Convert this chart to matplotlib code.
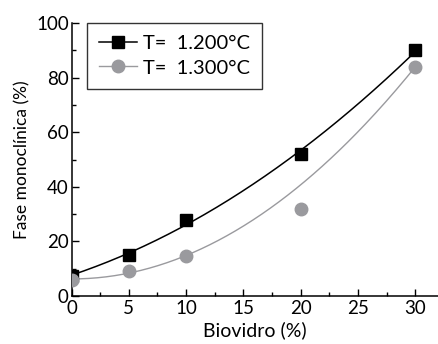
import numpy as np
import matplotlib
matplotlib.use("Agg")
from matplotlib import pyplot as plt
from matplotlib.lines import Line2D

plt.rcParams['font.family'] = ['Lato', 'DejaVu Sans']

biovidro = [0, 5, 10, 20, 30]
fase_1200 = [7.5, 15, 28, 52, 90]
fase_1300 = [6, 9, 14.5, 32, 84]
# weight of each point in the fitted trend line (20% point of 1300 C sits off the curve)
peso_1300 = [1, 1, 1, 0.05, 1]

black = "#000000"
grey = "#9a9a9e"

fig = plt.figure(figsize=(4.39, 3.44), dpi=100)
ax = fig.add_axes([0.163, 0.1395, 0.835, 0.793])

# smooth fitted curves (2nd order)
xs = np.linspace(0, 30, 200)
p1 = np.polyfit(biovidro, fase_1200, 2)
p2 = np.polyfit(biovidro, fase_1300, 2, w=peso_1300)
ax.plot(xs, np.polyval(p1, xs), color=black, lw=1.1, zorder=2)
ax.plot(xs, np.polyval(p2, xs), color=grey, lw=1.0, zorder=2)

ax.plot(biovidro, fase_1200, ls="none", marker="s", ms=9, color=black, zorder=3)
ax.plot(biovidro, fase_1300, ls="none", marker="o", ms=9, color=grey, zorder=4)

ax.set_xlim(0, 32)
ax.set_ylim(0, 100)
ax.set_xticks([0, 5, 10, 15, 20, 25, 30])
ax.set_xticks(np.arange(2.5, 32, 5), minor=True)
ax.set_yticks([0, 20, 40, 60, 80, 100])
ax.set_yticks([10, 30, 50, 70, 90], minor=True)
ax.tick_params(direction="in", which="major", length=5, width=1, labelsize=13.5)
ax.tick_params(direction="in", which="minor", length=3, width=1)
ax.tick_params(axis="x", which="major", pad=3)
ax.tick_params(axis="y", which="major", pad=2)

ax.spines["top"].set_visible(False)
ax.spines["right"].set_visible(False)
ax.spines["left"].set_linewidth(1.1)
ax.spines["bottom"].set_linewidth(1.1)

ax.set_xlabel("Biovidro (%)", fontsize=14, labelpad=3)
ax.set_ylabel("Fase monoclínica (%)", fontsize=12.5, labelpad=4)

handles = [
    Line2D([], [], color=black, lw=1.1, marker="s", ms=9),
    Line2D([], [], color=grey, lw=1.0, marker="o", ms=9),
]
leg = ax.legend(handles, ["T=  1.200°C", "T=  1.300°C"], loc="upper left",
                bbox_to_anchor=(0.042, 1.0), borderaxespad=0, fontsize=14.5,
                frameon=True, fancybox=False, edgecolor="black",
                handlelength=1.9, handletextpad=0.3, borderpad=0.6,
                labelspacing=0.35)
leg.get_frame().set_linewidth(1.0)

fig.savefig("out.png", dpi=100)
